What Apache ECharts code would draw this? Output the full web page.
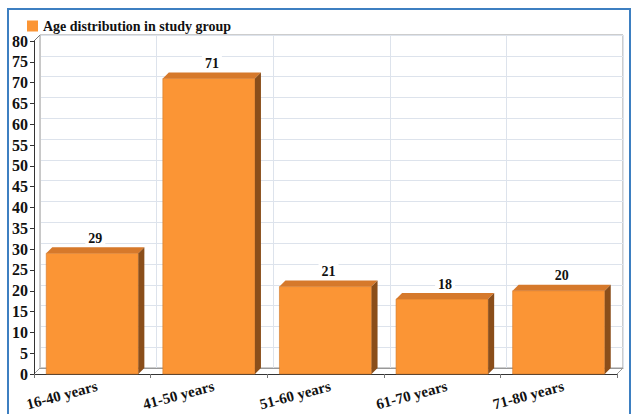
<!DOCTYPE html>
<html>
<head>
<meta charset="utf-8">
<script src="https://cdn.jsdelivr.net/npm/echarts@6/dist/echarts.min.js"></script>
<style>
    html, body { margin: 0; padding: 0; background: #fff; }
    #chart { width: 631px; height: 414px; }
</style>
</head>
<body>
<div id="chart"></div>
<script>
const categories = ["16-40 years", "41-50 years", "51-60 years", "61-70 years", "71-80 years"];
const counts = [29, 71, 21, 18, 20];
const seriesName = "Age distribution in study group";

const serif = "'Liberation Serif', 'Times New Roman', serif";
const faceColor = "#fb9535";
const topColor = "#d6792b";
const sideColor = "#8a4e1a";

// depth of the fake 3d effect, px
const depthX = 6;
const depthY = 6;

// front grid (bars, labels) and back wall grid
const front = { left: 34, top: 41, right: 14, bottom: 40 };
const back = {
    left: front.left + depthX,
    top: front.top - depthY,
    right: front.right - depthX,
    bottom: front.bottom + depthY,
};

const chart = echarts.init(document.getElementById("chart"), null, { renderer: "svg" });

function renderBar(params, api) {
    const cat = api.value(0);
    const base = api.coord([cat, 0]);
    const top = api.coord([cat, api.value(1)]);
    const w = api.size([1, 0])[0] * 0.79;
    const x0 = top[0] - w / 2;
    const x1 = x0 + w;
    return {
        type: "group",
        children: [
            {
                type: "rect",
                shape: { x: x0, y: top[1], width: w, height: base[1] - top[1] },
                style: { fill: faceColor, stroke: "#d27a2c", lineWidth: 0.6 },
            },
            {
                type: "polygon",
                shape: { points: [[x0, top[1]], [x0 + depthX, top[1] - depthY], [x1 + depthX, top[1] - depthY], [x1, top[1]]] },
                style: { fill: topColor },
            },
            {
                type: "polygon",
                shape: { points: [[x1, top[1]], [x1 + depthX, top[1] - depthY], [x1 + depthX, base[1] - depthY], [x1, base[1]]] },
                style: { fill: sideColor },
            },
            {
                type: "text",
                x: x0 + w / 2 + depthX / 2,
                y: top[1] - depthY - 9,
                style: {
                    text: String(api.value(1)),
                    font: "bold 14px " + serif,
                    fill: "#111",
                    align: "center",
                    verticalAlign: "middle",
                    backgroundColor: "#fff",
                    padding: [1, 3],
                },
            },
        ],
    };
}

const option = {
    animation: false,
    textStyle: { fontFamily: serif },
    legend: {
        left: 22,
        top: 14,
        icon: "rect",
        itemWidth: 11,
        itemHeight: 11,
        itemGap: 6,
        textStyle: { fontFamily: serif, fontWeight: "bold", fontSize: 14, color: "#111" },
        data: [seriesName],
    },
    grid: [
        Object.assign({}, front),
        Object.assign({ show: true, borderColor: "#9a9a9a", borderWidth: 1 }, back),
    ],
    xAxis: [
        {
            gridIndex: 0,
            type: "category",
            data: categories,
            axisLine: { lineStyle: { color: "#333", width: 1 } },
            axisTick: { show: true, length: 4, lineStyle: { color: "#777" } },
            axisLabel: {
                rotate: 15,
                margin: 13,
                interval: 0,
                padding: [0, -5, 0, 0],
                fontFamily: serif,
                fontWeight: "bold",
                fontSize: 15,
                color: "#111",
            },
            splitLine: { show: false },
        },
        {
            gridIndex: 1,
            type: "category",
            data: categories,
            axisLine: { lineStyle: { color: "#999" } },
            axisTick: { show: false },
            axisLabel: { show: false },
            splitLine: { show: true, interval: 0, lineStyle: { color: "#dde3ec" } },
        },
    ],
    yAxis: [
        {
            gridIndex: 0,
            type: "value",
            min: 0,
            max: 80,
            interval: 5,
            axisLine: { show: true, lineStyle: { color: "#333", width: 1 } },
            axisTick: { show: true, length: 4, lineStyle: { color: "#333" } },
            axisLabel: {
                margin: 6,
                fontFamily: serif,
                fontWeight: "bold",
                fontSize: 16,
                color: "#111",
            },
            splitLine: { show: false },
        },
        {
            gridIndex: 1,
            type: "value",
            min: 0,
            max: 80,
            interval: 5,
            axisLine: { show: true, lineStyle: { color: "#c8c8c8" } },
            axisTick: { show: false },
            axisLabel: { show: false },
            splitLine: { show: true, lineStyle: { color: "#dde3ec" } },
        },
    ],
    graphic: [
        {
            type: "rect",
            z: -10,
            shape: { x: 8, y: 9, width: 622, height: 420 },
            style: { fill: "none", stroke: "#3d7fc1", lineWidth: 2 },
        },
        // corner links between front axes and back wall
        {
            type: "polyline",
            shape: { points: [[front.left, front.top], [back.left, back.top]] },
            style: { stroke: "#777", lineWidth: 1 },
        },
        {
            type: "polyline",
            shape: { points: [[front.left, 414 - front.bottom], [back.left, 414 - back.bottom]] },
            style: { stroke: "#999", lineWidth: 1 },
        },
        {
            type: "polyline",
            shape: { points: [[631 - front.right, 414 - front.bottom], [631 - back.right, 414 - back.bottom]] },
            style: { stroke: "#999", lineWidth: 1 },
        },
    ],
    series: [
        {
            name: seriesName,
            type: "custom",
            xAxisIndex: 0,
            yAxisIndex: 0,
            z: 5,
            itemStyle: { color: faceColor },
            renderItem: renderBar,
            encode: { x: 0, y: 1 },
            data: counts.map((v, i) => [i, v]),
        },
    ],
};

chart.setOption(option);
</script>
</body>
</html>
